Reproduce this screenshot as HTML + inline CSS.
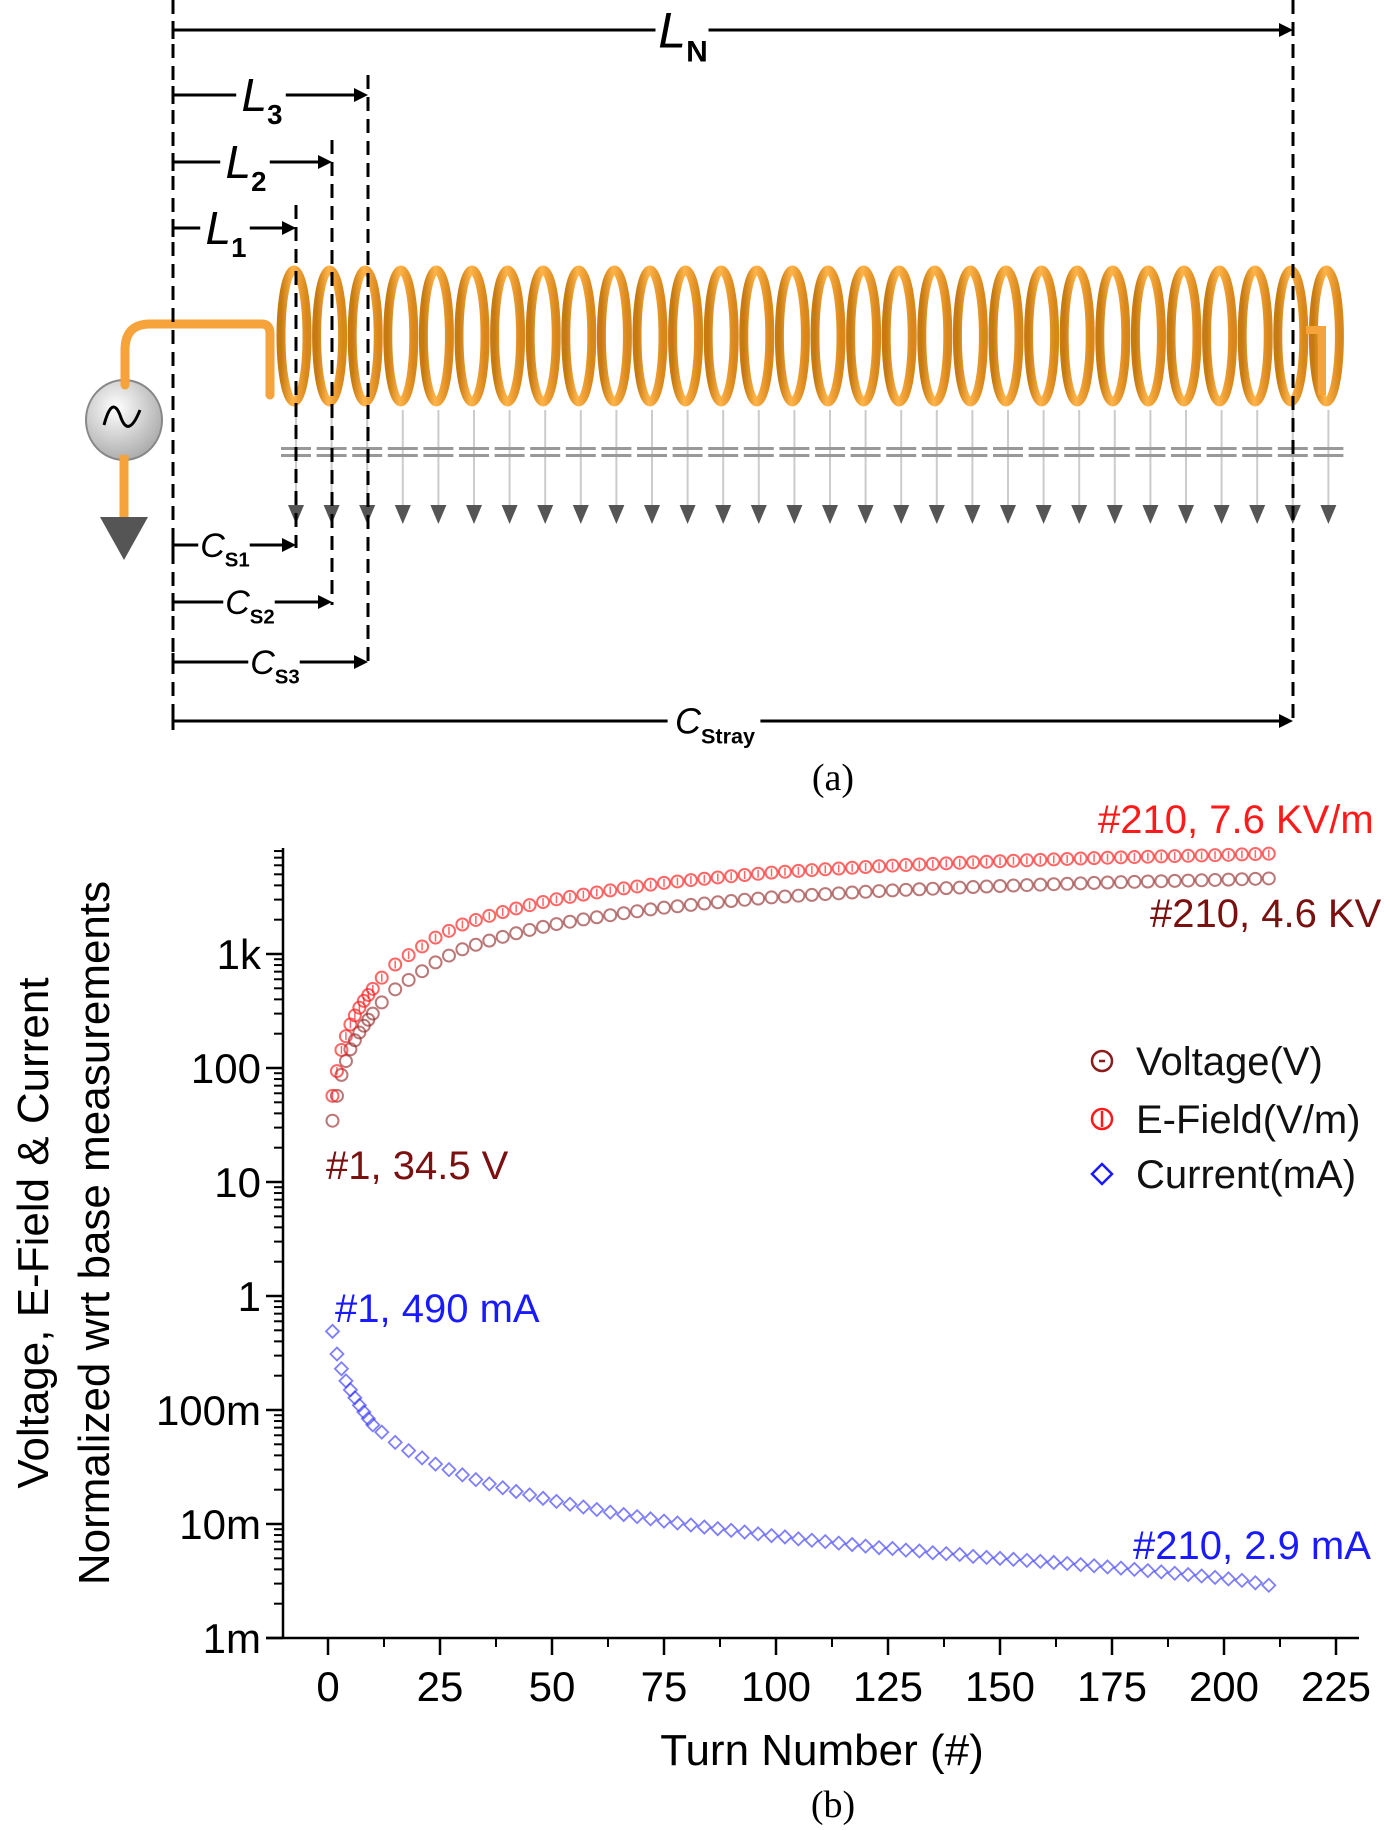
<!DOCTYPE html>
<html><head><meta charset="utf-8"><style>
html,body{margin:0;padding:0;background:#fff;}
svg{display:block;font-family:"Liberation Sans",sans-serif;}
</style></head><body>
<svg id="fig" width="1400" height="1830" viewBox="0 0 1400 1830">
<defs>
<linearGradient id="coilg" x1="0" x2="1" y1="0" y2="0">
<stop offset="0" stop-color="#c77a10"/><stop offset="0.45" stop-color="#ffb44a"/><stop offset="1" stop-color="#d9861a"/>
</linearGradient>
<radialGradient id="srcg" cx="0.4" cy="0.35" r="0.7"><stop offset="0" stop-color="#ffffff"/><stop offset="1" stop-color="#a8a8a8"/></radialGradient>
</defs>
<g id="diagram"></g>
<text x="833" y="790" font-family="Liberation Serif, serif" font-size="38" text-anchor="middle">(a)</text>
<g id="chart"></g>
<text x="833" y="1817" font-family="Liberation Serif, serif" font-size="38" text-anchor="middle">(b)</text>
</svg>
<script>
// ---------- chart data ----------
const turns = [1,2,3,4,5,6,7,8,9,10,12,15,18,21,24,27,30,33,36,39,42,45,48,51,54,57,60,63,66,69,72,75,78,81,84,87,90,93,96,99,102,105,108,111,114,117,120,123,126,129,132,135,138,141,144,147,150,153,156,159,162,165,168,171,174,177,180,183,186,189,192,195,198,201,204,207,210];
const voltage = [34.5,57,87,115,146,175,205,235,265,300,376,490,592,706,844,968,1100,1205,1310,1415,1520,1625,1730,1830,1920,2010,2100,2190,2280,2370,2460,2550,2623,2696,2770,2843,2916,2989,3062,3135,3195,3248,3300,3354,3406,3460,3512,3565,3614,3656,3698,3740,3782,3824,3866,3908,3950,3986,4022,4058,4094,4130,4166,4202,4238,4268,4296,4324,4351,4379,4406,4434,4462,4492,4528,4564,4600];
const efield = [57,94,144,190,241,289,338,388,437,495,620,809,977,1165,1393,1597,1815,1988,2162,2335,2508,2681,2855,3020,3168,3317,3465,3614,3762,3911,4059,4208,4328,4448,4571,4691,4811,4932,5052,5173,5272,5359,5445,5534,5620,5709,5795,5882,5963,6032,6102,6171,6240,6310,6379,6448,6518,6577,6636,6696,6755,6815,6874,6933,6993,7042,7088,7135,7179,7225,7270,7316,7362,7412,7471,7531,7590];
const current = [0.49,0.31,0.23,0.18,0.15,0.128,0.11,0.096,0.084,0.074,0.064,0.052,0.044,0.038,0.0335,0.030,0.027,0.0245,0.0225,0.0208,0.0193,0.018,0.0168,0.0158,0.0149,0.0141,0.0134,0.0127,0.0121,0.0116,0.0111,0.0106,0.0102,0.0098,0.0094,0.0091,0.0088,0.0085,0.0082,0.0079,0.0077,0.0074,0.0072,0.0070,0.0068,0.0066,0.0064,0.0062,0.0061,0.0059,0.0058,0.0056,0.0055,0.0054,0.0052,0.0051,0.0050,0.0049,0.0048,0.0047,0.0046,0.0045,0.0044,0.0043,0.0042,0.0041,0.0040,0.0039,0.0038,0.0037,0.0036,0.0035,0.0034,0.0033,0.0032,0.00305,0.0029];
const xTicks = [0,25,50,75,100,125,150,175,200,225];
const yTickVals = [0.001,0.01,0.1,1,10,100,1000];
const yTickLabels = ["1m","10m","100m","1","10","100","1k"];

const NS="http://www.w3.org/2000/svg";
function mk(tag, attrs, parent, txt){const e=document.createElementNS(NS,tag);for(const k in attrs)e.setAttribute(k,attrs[k]);if(txt!==undefined)e.textContent=txt;parent.appendChild(e);return e;}

const X0=328, XS=112/25, Y1K=954, DEC=114;
const xs = t => X0 + t*XS;
const ys = v => Y1K - (Math.log10(v)-3)*DEC;

const chart=document.getElementById('chart');
const AX_L=283, AX_B=1638, AX_T=848, AX_R=1359;
let ya=mk('line',{x1:AX_L,y1:AX_T,x2:AX_L,y2:AX_B,stroke:'#000','stroke-width':2.5},chart);


let xa=mk('line',{x1:AX_L-17,y1:AX_B,x2:AX_R,y2:AX_B,stroke:'#000','stroke-width':2.5},chart);


yTickVals.forEach((v,i)=>{
  const y=ys(v);
  let t=mk('line',{x1:AX_L-17,y1:y,x2:AX_L,y2:y,stroke:'#000','stroke-width':2.5},chart);
  
  
  let l=mk('text',{x:AX_L-22,y:y+15,'font-size':42,'text-anchor':'end',fill:'#000'},chart,yTickLabels[i]);
  
  
  for(let m=2;m<=9;m++){
    const vm=v*m; if(ys(vm)<AX_T) break;
    let mt=mk('line',{x1:AX_L-9,y1:ys(vm),x2:AX_L,y2:ys(vm),stroke:'#000','stroke-width':2},chart);
    
    
  }
});
xTicks.forEach((t,i)=>{
  const x=xs(t);
  let tk=mk('line',{x1:x,y1:AX_B,x2:x,y2:AX_B+17,stroke:'#000','stroke-width':2.5},chart);
  
  
  let l=mk('text',{x:x,y:AX_B+63,'font-size':42,'text-anchor':'middle',fill:'#000'},chart,String(t));
  
  
  if(i<xTicks.length-1){
    let mt=mk('line',{x1:xs(t+12.5),y1:AX_B,x2:xs(t+12.5),y2:AX_B+9,stroke:'#000','stroke-width':2},chart);
    
    
  }
});
let xt=mk('text',{x:822,y:1765,'font-size':44,'text-anchor':'middle',fill:'#000'},chart,'Turn Number (#)');


let yt1=mk('text',{x:0,y:0,'font-size':44,'text-anchor':'middle',fill:'#000',transform:'translate(48,1233) rotate(-90)'},chart,'Voltage, E-Field & Current');


let yt2=mk('text',{x:0,y:0,'font-size':44,'text-anchor':'middle',fill:'#000',transform:'translate(109,1233) rotate(-90)'},chart,'Normalized wrt base measurements');



const VC='rgba(140,30,30,0.6)', EC='rgba(255,20,20,0.65)', CC='rgba(40,40,255,0.6)';
const gV=mk('g',{},chart);  
const gE=mk('g',{},chart);  
const gC=mk('g',{},chart);  
turns.forEach((t,i)=>{
  const x=xs(t);
  let c=mk('circle',{cx:x,cy:ys(voltage[i]),r:6,fill:'none',stroke:VC,'stroke-width':2},gV);
  
  
  let e=mk('circle',{cx:x,cy:ys(efield[i]),r:6,fill:'none',stroke:EC,'stroke-width':2},gE);
  
  
  mk('line',{x1:x,y1:ys(efield[i])-4,x2:x,y2:ys(efield[i])+4,stroke:EC,'stroke-width':1.5},gE);
  const y=ys(current[i]);
  let d=mk('path',{d:`M${x} ${y-6.5}L${x+6.5} ${y}L${x} ${y+6.5}L${x-6.5} ${y}Z`,fill:'none',stroke:CC,'stroke-width':1.8},gC);
  
  
});
const ann=[["#210, 7.6 KV/m",1098,833,'#ff1a1a','annotation-efield-end'],["#210, 4.6 KV",1150,927,'#7a1010','annotation-voltage-end'],["#1, 34.5 V",326,1179,'#7a1010','annotation-voltage-start'],["#1, 490 mA",335,1322,'#1a1aff','annotation-current-start'],["#210, 2.9 mA",1133,1559,'#1a1aff','annotation-current-end']];
ann.forEach(a=>{let t=mk('text',{x:a[1],y:a[2],'font-size':40,fill:a[3]},chart,a[0]);
  
  });
const lg=mk('g',{},chart);  
const lgItems=[["Voltage(V)",1075,'#8b1c1c','o'],["E-Field(V/m)",1133,'#ff1a1a','e'],["Current(mA)",1188,'#1a1aff','d']];
lgItems.forEach(it=>{
  const g=mk('g',{},lg);
  
  
  const x=1102,y=it[1]-14;
  if(it[3]==='d') mk('path',{d:`M${x} ${y-10}L${x+10} ${y}L${x} ${y+10}L${x-10} ${y}Z`,fill:'none',stroke:it[2],'stroke-width':2.5},g);
  else mk('circle',{cx:x,cy:y,r:10,fill:'none',stroke:it[2],'stroke-width':2.5},g);
  if(it[3]==='e') mk('line',{x1:x,y1:y-8,x2:x,y2:y+8,stroke:it[2],'stroke-width':2.5},g);
  if(it[3]==='o') mk('line',{x1:x-3,y1:y,x2:x+3,y2:y,stroke:it[2],'stroke-width':2.5},g);
  mk('text',{x:1136,y:it[1],'font-size':40,fill:'#111'},g,it[0]);
});

// ---------- diagram ----------
const dg=document.getElementById('diagram');
const LX=173, RX=1293;
function dash(x,y1,y2,name){let l=mk('line',{x1:x,y1:y1,x2:x,y2:y2,stroke:'#000','stroke-width':3,'stroke-dasharray':'14 8'},dg);
  
  }
function arrow(y,xe,label,sub,lx,fs,name){
  const g=mk('g',{},dg);
  
  
  mk('line',{x1:LX,y1:y-9,x2:LX,y2:y+9,stroke:'#000','stroke-width':3},g);
  const t=mk('text',{x:lx,y:y+fs*0.35,'font-size':fs,'font-style':'italic','font-family':'Liberation Sans, sans-serif',fill:'#000','text-anchor':'middle'},g);
  mk('tspan',{},t,label); mk('tspan',{'font-size':fs*0.6,'font-style':'normal',dy:fs*0.28,'font-weight':'bold'},t,sub);
  const w=(label.length*0.5+sub.length*0.36)*fs;
  mk('line',{x1:LX,y1:y,x2:lx-w/2-6,y2:y,stroke:'#000','stroke-width':3},g);
  mk('line',{x1:lx+w/2+4,y1:y,x2:xe-10,y2:y,stroke:'#000','stroke-width':3},g);
  mk('path',{d:`M${xe} ${y}L${xe-14} ${y-7}L${xe-14} ${y+7}Z`,fill:'#000'},g);
}
const src=mk('g',{},dg);


mk('path',{d:'M125 385 L125 350 Q125 324 150 324 L262 324 Q270 324 270 334 L270 395',fill:'none',stroke:'#f5a33a','stroke-width':9,'stroke-linecap':'round'},dg);
mk('line',{x1:124,y1:455,x2:124,y2:520,stroke:'#f5a33a','stroke-width':9},dg);
mk('ellipse',{cx:124,cy:420,rx:38,ry:40,fill:'url(#srcg)',stroke:'#888','stroke-width':2},src);
mk('path',{d:'M104 425 Q112 395 120 415 Q128 440 140 410',fill:'none',stroke:'#000','stroke-width':3},src);
const gnd=mk('path',{d:'M100 517 L148 517 L124 560 Z',fill:'#555'},dg);


const coil=mk('g',{},dg);


for(let i=0;i<30;i++){
  const cx=296+i*35.6;
  mk('line',{x1:cx,y1:410,x2:cx,y2:505,stroke:'#ccc','stroke-width':2},dg);
  mk('rect',{x:cx-15,y:447,width:30,height:3,fill:'#999'},dg);
  mk('rect',{x:cx-15,y:454,width:30,height:3,fill:'#999'},dg);
  mk('path',{d:`M${cx-8} 505 L${cx+8} 505 L${cx} 524 Z`,fill:'#555'},dg);
  mk('ellipse',{cx:cx-2,cy:336,rx:13,ry:66,fill:'none',stroke:'url(#coilg)','stroke-width':9},coil);
}
mk('path',{d:'M1306 330 L1322 330 L1322 395',fill:'none',stroke:'#f5a33a','stroke-width':8},coil);
dash(LX,0,725,'left-reference-line');dash(RX,0,725,'right-reference-line');
dash(296,205,548,'l1-boundary');dash(332,140,605,'l2-boundary');dash(368,75,665,'l3-boundary');
arrow(30,RX,'L','N',683,50,'ln-arrow');
arrow(95,368,'L','3',262,46,'l3-arrow');
arrow(162,332,'L','2',246,46,'l2-arrow');
arrow(228,296,'L','1',226,46,'l1-arrow');
arrow(545,296,'C','S1',225,34,'cs1-arrow');
arrow(602,332,'C','S2',250,34,'cs2-arrow');
arrow(662,368,'C','S3',275,34,'cs3-arrow');
arrow(721,RX,'C','Stray',715,36,'cstray-arrow');
</script>
</body></html>
